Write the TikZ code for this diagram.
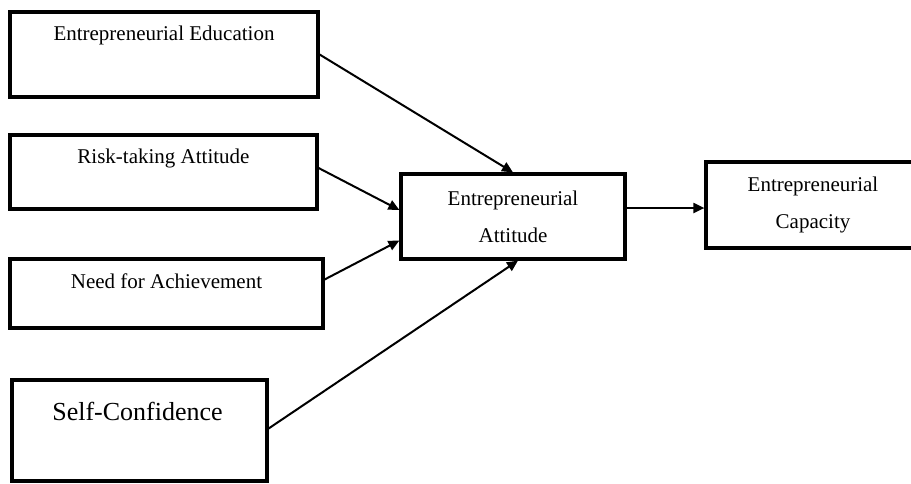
\documentclass[tikz,border=0pt]{standalone}
\usepackage{fontspec}
\setmainfont{Liberation Serif}
\usetikzlibrary{arrows.meta,positioning}

\begin{document}
\begin{tikzpicture}[
    x=1pt, y=-1pt,
    box/.style={rectangle, draw, line width=3.2pt, inner sep=0pt},
    caption/.style={inner sep=0pt, font=\fontsize{21}{37}\selectfont},
    bigcaption/.style={inner sep=0pt, font=\fontsize{26}{30}\selectfont},
    link/.style={line width=2pt},
    ->, >={Triangle[length=11pt,width=10pt]}
]
    \useasboundingbox (0,0) rectangle (911,483);
    \clip (0,0) rectangle (911,483);

    \node[box, minimum width=308pt, minimum height=85pt] (edu) at (164,54.5) {};
    \node[box, minimum width=307pt, minimum height=74pt] (risk) at (163.5,172) {};
    \node[box, minimum width=313pt, minimum height=69pt] (need) at (166.5,293.5) {};
    \node[box, minimum width=255pt, minimum height=101pt] (self) at (139.5,430.5) {};
    \node[box, caption, align=center, minimum width=224pt, minimum height=85pt] (att) at (513,216.5) {Entrepreneurial\\Attitude};
    \node[box, caption, align=center, minimum width=214pt, minimum height=86pt] (cap) at (813,205) {Entrepreneurial\\Capacity};

    \node[caption, below=15.5pt of edu.north] (edutxt) {Entrepreneurial Education};
    \node[caption, below=15.5pt of risk.north] (risktxt) {Risk-taking Attitude};
    \node[caption, below=16.5pt of need.north] (needtxt) {Need for Achievement};
    \node[bigcaption, below=24pt of self.north, xshift=-2pt] (selftxt) {Self-Confidence};

    \draw[link] (edu.east) -- (att.north);
    \draw[link] ([yshift=4pt]risk.east) -- ([yshift=6.5pt]att.west);
    \draw[link] ([yshift=14pt]need.east) -- ([yshift=-24pt]att.west);
    \draw[link] ([yshift=2pt]self.east) -- ([xshift=5pt]att.south);
    \draw[link] ([yshift=8.5pt]att.east) -- ([yshift=-3pt]cap.west);
\end{tikzpicture}
\end{document}
